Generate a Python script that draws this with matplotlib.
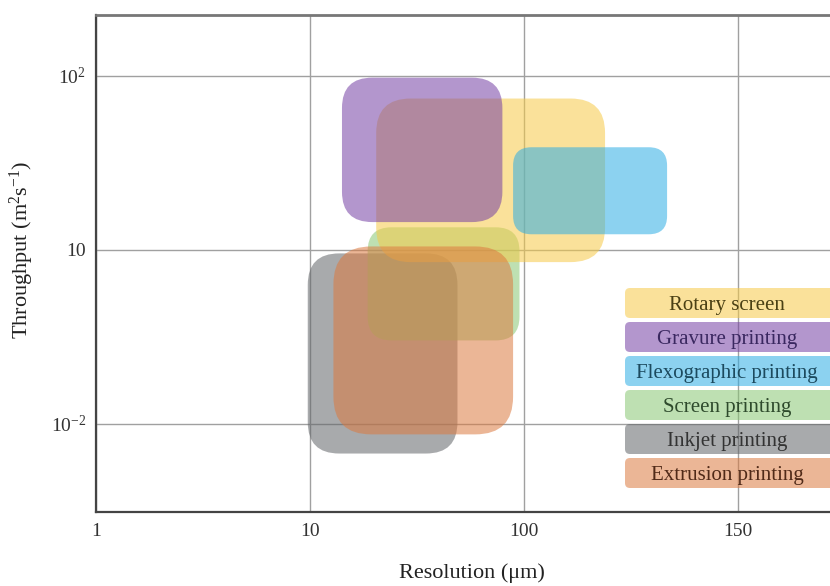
import numpy as np
import matplotlib
matplotlib.use('Agg')
import matplotlib.pyplot as plt
from matplotlib.patches import FancyBboxPatch

plt.rcParams['font.family'] = ['Liberation Serif', 'DejaVu Serif']
plt.rcParams['mathtext.fontset'] = 'custom'
plt.rcParams['mathtext.rm'] = 'Liberation Serif'
plt.rcParams['mathtext.it'] = 'Liberation Serif:italic'

# axis positions (one step per labelled gridline)
x_ticks = [0, 1, 2, 3]
x_labels = ['1', '10', '100', '150']
y_ticks = [0, 1, 2]
y_labels = [r'$10^{-2}$', '10', r'$10^{2}$']

# ranges of each printing technique, in axis positions
techniques = ['Rotary screen', 'Gravure printing', 'Flexographic printing',
              'Screen printing', 'Inkjet printing', 'Extrusion printing']
res_lo = [1.31, 1.15, 1.95, 1.27, 0.99, 1.11]
res_hi = [2.38, 1.90, 2.67, 1.98, 1.69, 1.95]
thr_lo = [0.93, 1.16, 1.09, 0.48, -0.17, -0.06]
thr_hi = [1.87, 1.99, 1.59, 1.13, 0.98, 1.02]

colors = ['#F6CA47', '#7640A4', '#2EADE4', '#89C873', '#616468', '#DC7A40']
text_colors = ['#4a4014', '#3a2860', '#1c4a5e', '#2e4a2c', '#333333', '#502a18']
alpha = 0.55

# drawing order of the boxes (bottom to top)
order = [4, 3, 0, 1, 2, 5]

W, H = 830, 586
fig = plt.figure(figsize=(W / 100, H / 100), dpi=100)
ax_l, ax_b, ax_w, ax_h = 96, 74, 770, 497
ax = fig.add_axes([ax_l / W, ax_b / H, ax_w / W, ax_h / H])
ax.set_xlim(0, 3.6)
ax.set_ylim(-0.506, 2.35)

# scale so that corner rounding is circular on screen
px_x = ax_w / 3.6
px_y = ax_h / (2.35 + 0.506)
aspect = px_x / px_y

for i in order:
    w = res_hi[i] - res_lo[i]
    h = thr_hi[i] - thr_lo[i]
    r_px = 0.21 * min(w * px_x, h * px_y)
    box = FancyBboxPatch((res_lo[i], thr_lo[i]), w, h,
                         boxstyle='round,pad=0,rounding_size=%f' % (r_px / px_x),
                         mutation_aspect=aspect,
                         facecolor=colors[i], edgecolor='none', alpha=alpha, zorder=3)
    ax.add_patch(box)

ax.set_xticks(x_ticks)
ax.set_xticklabels(x_labels)
ax.set_yticks(y_ticks)
ax.set_yticklabels(y_labels)
ax.tick_params(length=0, labelsize=14, colors='#333333')
ax.tick_params(axis='x', pad=8)
ax.tick_params(axis='y', pad=7)
ax.grid(True, color='#a0a0a0', linewidth=1.0, zorder=0)
ax.set_axisbelow(True)

ax.spines['left'].set_color('#444444')
ax.spines['left'].set_linewidth(1.6)
ax.spines['bottom'].set_color('#444444')
ax.spines['bottom'].set_linewidth(1.6)
ax.spines['top'].set_color('#777777')
ax.spines['top'].set_linewidth(2.0)

ax.set_xlabel('Resolution (μm)', fontsize=16, color='#222222')
ax.xaxis.set_label_coords((472 - ax_l) / ax_w, -0.103)
ax.set_ylabel(r'Throughput (m$^{2}$s$^{-1}$)', fontsize=16, color='#222222')
ax.yaxis.set_label_coords((36 - ax_l) / ax_w, 0.527)

# legend as coloured rounded boxes
leg_x = (625 - ax_l) / ax_w
leg_w = 1.05 - leg_x
leg_h = 30 / ax_h
step = 34 / ax_h
top_c = (512 - 303) / ax_h
ax_aspect = ax_w / ax_h
for k, name in enumerate(techniques):
    yc = top_c - k * step
    patch = FancyBboxPatch((leg_x, yc - leg_h / 2), leg_w, leg_h,
                           boxstyle='round,pad=0,rounding_size=%f' % (5 / ax_w),
                           mutation_aspect=ax_aspect, transform=ax.transAxes,
                           facecolor=colors[k], edgecolor='none', alpha=alpha,
                           clip_on=False, zorder=5)
    ax.add_patch(patch)
    ax.text((727 - ax_l) / ax_w, yc, name, transform=ax.transAxes,
            ha='center', va='center_baseline', fontsize=15, color=text_colors[k], zorder=6)

fig.savefig('out.png', dpi=100)
